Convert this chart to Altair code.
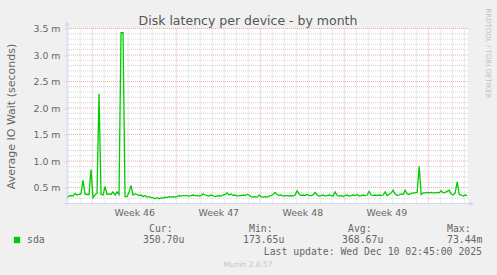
import altair as alt
import pandas as pd

# Disk latency for sda, 4-hour averages in milliseconds (monthly view)
latency_ms = [
    0.32, 0.34, 0.35, 0.34, 0.39, 0.36, 0.37, 0.38, 0.64, 0.38,
    0.37, 0.37, 0.84, 0.31, 0.36, 0.40, 2.27, 0.37, 0.36, 0.52,
    0.37, 0.38, 0.37, 0.42, 0.36, 0.42, 0.37, 3.42, 3.42, 0.33,
    0.33, 0.41, 0.54, 0.36, 0.38, 0.37, 0.35, 0.36, 0.33, 0.35,
    0.32, 0.33, 0.31, 0.31, 0.29, 0.31, 0.29, 0.30, 0.30, 0.32,
    0.31, 0.33, 0.32, 0.33, 0.32, 0.33, 0.35, 0.34, 0.35, 0.35,
    0.35, 0.34, 0.35, 0.36, 0.35, 0.35, 0.34, 0.35, 0.38, 0.36,
    0.35, 0.34, 0.36, 0.35, 0.33, 0.34, 0.35, 0.34, 0.36, 0.37,
    0.40, 0.36, 0.38, 0.35, 0.36, 0.34, 0.35, 0.35, 0.36, 0.35,
    0.37, 0.36, 0.33, 0.32, 0.33, 0.32, 0.36, 0.33, 0.32, 0.33,
    0.32, 0.34, 0.35, 0.37, 0.41, 0.37, 0.35, 0.36, 0.34, 0.35,
    0.35, 0.34, 0.35, 0.34, 0.36, 0.44, 0.38, 0.35, 0.36, 0.35,
    0.37, 0.35, 0.35, 0.36, 0.41, 0.36, 0.34, 0.35, 0.36, 0.34,
    0.35, 0.36, 0.35, 0.34, 0.42, 0.35, 0.34, 0.35, 0.33, 0.35,
    0.36, 0.34, 0.35, 0.36, 0.35, 0.37, 0.34, 0.35, 0.36, 0.35,
    0.36, 0.43, 0.36, 0.35, 0.36, 0.35, 0.36, 0.35, 0.36, 0.42,
    0.35, 0.37, 0.40, 0.45, 0.38, 0.35, 0.36, 0.38, 0.37, 0.45,
    0.38, 0.37, 0.39, 0.40, 0.40, 0.41, 0.90, 0.37, 0.40, 0.40,
    0.41, 0.40, 0.41, 0.40, 0.40, 0.41, 0.40, 0.44, 0.40, 0.41,
    0.43, 0.45, 0.38, 0.36, 0.40, 0.61, 0.37, 0.36, 0.34, 0.36,
    0.35,
]
# sample times in days relative to Monday 00:00 of week 46
first_sample_day = -2.1
sample_step_days = 4 / 24
days = [first_sample_day + i * sample_step_days for i in range(len(latency_ms))]

x_domain = [-2.1, 31.3]
y_domain = [0.2, 3.5]

week_numbers = [46, 47, 48, 49]
week_starts = [0, 7, 14, 21, 28]
week_centers = [3.5, 10.5, 17.5, 24.5]
day_lines = [d for d in range(-2, 32) if d % 7 != 0]
major_ms = [0.5, 1.0, 1.5, 2.0, 2.5, 3.0, 3.5]
minor_ms = [0.3, 0.4, 0.6, 0.7, 0.8, 0.9, 1.1, 1.2, 1.3, 1.4, 1.6, 1.7, 1.8, 1.9,
            2.1, 2.2, 2.3, 2.4, 2.6, 2.7, 2.8, 2.9, 3.1, 3.2, 3.3, 3.4]

series_name = "sda"
stat_headers = ["Cur:", "Min:", "Avg:", "Max:"]
stat_values = ["350.70u", "173.65u", "368.67u", "73.44m"]
last_update = "Last update: Wed Dec 10 02:45:00 2025"

FONT = "DejaVu Sans"
MONO = "DejaVu Sans Mono"
TEXT = "#666666"
AXIS = "#CFD6F8"
GREEN = "#00CC00"
GRID = "#D4D4D4"
MGRID = "#EBAAAA"

W, H = 401, 175

xs = alt.Scale(domain=x_domain, nice=False, zero=False)
ys = alt.Scale(domain=y_domain, nice=False, zero=False)

# week labels sit centred between the Monday grid lines
x_axis = alt.Axis(
    values=week_centers,
    labelExpr="'Week ' + (46 + floor(datum.value / 7))",
    title=None,
    ticks=False,
    domain=False,
    grid=False,
    labelFont=FONT,
    labelFontSize=9.4,
    labelColor=TEXT,
    labelPadding=5,
)
y_axis = alt.Axis(
    values=major_ms,
    labelExpr="format(datum.value, '.1f') + ' m'",
    title="Average IO Wait (seconds)",
    titleFont=FONT,
    titleFontSize=11,
    titleFontWeight="normal",
    titleColor=TEXT,
    titleX=-56,
    titleY=H / 2,
    titleAlign="center",
    titleBaseline="middle",
    titleAngle=270,
    ticks=True,
    tickSize=3,
    tickColor=GRID,
    domain=False,
    grid=False,
    labelFont=FONT,
    labelFontSize=9.4,
    labelColor=TEXT,
    labelPadding=4,
)

series = pd.DataFrame({"day": days, "ms": latency_ms})


def one():
    return alt.Data(values=[{}])


def vrules(vals, color):
    return alt.Chart(pd.DataFrame({"day": vals})).mark_rule(
        color=color, strokeDash=[1, 1], strokeWidth=1
    ).encode(x=alt.X("day:Q", scale=xs, axis=x_axis))


def hrules(vals, color):
    return alt.Chart(pd.DataFrame({"ms": vals})).mark_rule(
        color=color, strokeDash=[1, 1], strokeWidth=1
    ).encode(y=alt.Y("ms:Q", scale=ys, axis=y_axis))


grid_day = vrules(day_lines, GRID)
grid_week = vrules(week_starts, MGRID)
grid_minor_y = hrules(minor_ms, GRID)
grid_major_y = hrules(major_ms, MGRID)

line = alt.Chart(series).mark_line(color=GREEN, strokeWidth=1.3, clip=True).encode(
    x=alt.X("day:Q", scale=xs, axis=x_axis),
    y=alt.Y("ms:Q", scale=ys, axis=y_axis),
)

# axis lines with arrow heads
x_axis_line = alt.Chart(one()).mark_rule(color=AXIS, strokeWidth=1).encode(
    x=alt.value(-4), x2=alt.value(W + 3), y=alt.value(H)
)
y_axis_line = alt.Chart(one()).mark_rule(color=AXIS, strokeWidth=1).encode(
    y=alt.value(H + 3), y2=alt.value(-4), x=alt.value(0)
)
x_arrow = alt.Chart(one()).mark_point(
    shape="triangle-right", filled=True, color=AXIS, size=22, opacity=1
).encode(x=alt.value(W + 4), y=alt.value(H))
y_arrow = alt.Chart(one()).mark_point(
    shape="triangle-up", filled=True, color=AXIS, size=22, opacity=1
).encode(x=alt.value(0), y=alt.value(-5))

title = alt.Chart(one()).mark_text(
    text="Disk latency per device - by month", font=FONT, fontSize=12.5,
    color="#555555", align="center", baseline="alphabetic"
).encode(x=alt.value(181), y=alt.value(-4))

watermark = alt.Chart(one()).mark_text(
    text="RRDTOOL / TOBI OETIKER", font=FONT, fontSize=7, color="#C0C0C0",
    angle=90, align="center", baseline="middle"
).encode(x=alt.value(421), y=alt.value(25))

# legend row
swatch = alt.Chart(one()).mark_square(color=GREEN, size=40, opacity=1).encode(
    x=alt.value(-50), y=alt.value(211.5)
)
legend_name = alt.Chart(one()).mark_text(
    text=series_name, font=MONO, fontSize=9.8, color=TEXT, align="left", baseline="middle"
).encode(x=alt.value(-40), y=alt.value(211.5))

header_x = [82, 182, 281, 380]
value_x = [76, 176, 275, 380]
legend_layers = []
for hx, vx, head, val in zip(header_x, value_x, stat_headers, stat_values):
    legend_layers.append(
        alt.Chart(one()).mark_text(
            text=head, font=MONO, fontSize=9.8, color=TEXT, align="left", baseline="middle"
        ).encode(x=alt.value(hx), y=alt.value(200))
    )
    legend_layers.append(
        alt.Chart(one()).mark_text(
            text=val, font=MONO, fontSize=9.8, color=TEXT, align="left", baseline="middle"
        ).encode(x=alt.value(vx), y=alt.value(211.5))
    )

update_text = alt.Chart(one()).mark_text(
    text=last_update, font=MONO, fontSize=9.8, color=TEXT, align="right", baseline="middle"
).encode(x=alt.value(415), y=alt.value(223))

munin_text = alt.Chart(one()).mark_text(
    text="Munin 2.0.57", font=FONT, fontSize=7.5, color="#C4C4C4", align="center", baseline="middle"
).encode(x=alt.value(181), y=alt.value(236))

chart = alt.layer(
    grid_day, grid_week, grid_minor_y, grid_major_y, line,
    x_axis_line, y_axis_line, x_arrow, y_arrow,
    title, watermark, swatch, legend_name, *legend_layers, update_text, munin_text,
).properties(
    width=W,
    height=H,
    background="#F0F0F0",
    padding={"left": 67, "top": 28.5, "right": 29, "bottom": 71.5},
    autosize=alt.AutoSizeParams(type="none"),
).configure_view(
    fill="#FFFFFF", stroke=None
)

chart.save("out.html", embed_options={"renderer": "svg", "actions": False})
